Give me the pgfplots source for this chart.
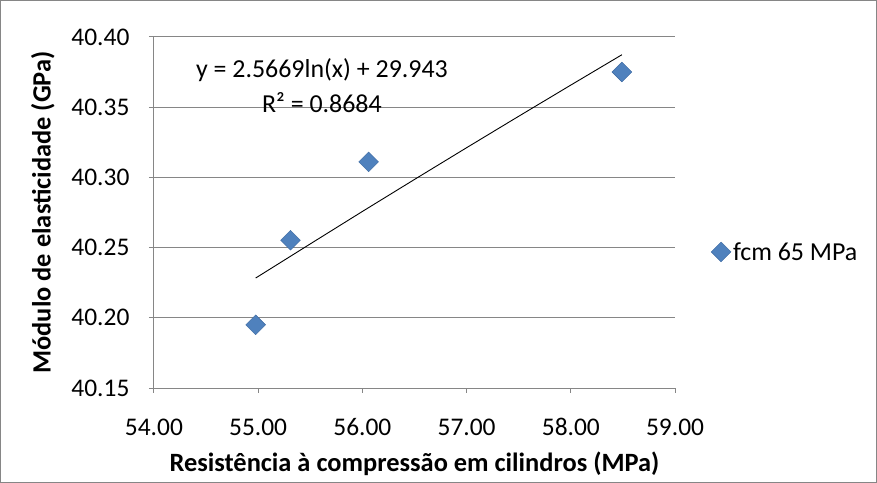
\documentclass[border=0pt]{standalone}
\usepackage{pgfplots}
\pgfplotsset{compat=1.18}
\usepackage{fontspec}
\setmainfont{Carlito}
\definecolor{mkblue}{RGB}{79,129,189}
\definecolor{mkedge}{RGB}{60,104,160}
\definecolor{gridc}{RGB}{134,134,134}
\begin{document}
\begin{tikzpicture}
\draw[gridc, line width=0.8bp] (0.5bp,0.5bp) rectangle (876.5bp,482.5bp);
\begin{axis}[
  at={(154bp,95bp)}, anchor=south west,
  scale only axis, width=521bp, height=351bp,
  xmin=54, xmax=59, ymin=40.15, ymax=40.40,
  xtick={54,55,56,57,58,59},
  ytick={40.15,40.20,40.25,40.30,40.35,40.40},
  axis x line*=bottom, axis y line*=left,
  axis line style={gridc, line width=0.9bp, -},
  ymajorgrids, grid style={gridc, line width=0.9bp},
  tick style={gridc, line width=0.9bp},
  tick align=outside, major tick length=5bp,
  xticklabel style={/pgf/number format/fixed, /pgf/number format/fixed zerofill, /pgf/number format/precision=2, font=\fontsize{25.5}{28}\selectfont, anchor=base, yshift=-43bp},
  yticklabel style={/pgf/number format/fixed, /pgf/number format/fixed zerofill, /pgf/number format/precision=2, font=\fontsize{25.5}{28}\selectfont, anchor=east, xshift=-16bp},
  /pgf/number format/assume math mode=true,
  scaled ticks=false,
  xlabel={\bfseries Resistência à compressão em cilindros (MPa)},
  ylabel={\bfseries Módulo de elasticidade (GPa)},
  label style={font=\fontsize{26.5}{30}\selectfont},
  xlabel style={at={(axis description cs:0.5,-0.2365)}, anchor=base},
  ylabel style={at={(axis description cs:-0.213,0.5)}, anchor=center, rotate=0},
  legend style={draw=none, fill=none, at={(1.069,0.3875)}, anchor=west, font=\fontsize{26}{30}\selectfont, legend cell align=left, inner sep=0pt},
  legend image code/.code={\draw[#1] plot coordinates {(0bp,0bp)};},
  clip=false,
]
\addplot[only marks, mark=square*, mark size=7bp, mark options={fill=mkblue, draw=mkedge, line width=0.4bp, rotate=45}]
  coordinates {(54.976,40.195) (55.31,40.2552) (56.06,40.311) (58.49,40.375)};
\addlegendentry{fcm 65 MPa}
\addplot[black, line width=0.9bp, forget plot] coordinates {
 (54.976,40.2283) (55.5,40.2526) (56.0,40.2757) (56.5,40.2985) (57.0,40.3211) (57.5,40.3435) (58.0,40.3657) (58.49,40.3873)};
\node[font=\fontsize{26}{30}\selectfont, anchor=base] at (axis cs:55.612,40.3708) {y = 2.5669ln(x) + 29.943};
\node[font=\fontsize{26}{30}\selectfont, anchor=base] at (axis cs:55.612,40.3459) {R² = 0.8684};
\end{axis}
\end{tikzpicture}
\end{document}
